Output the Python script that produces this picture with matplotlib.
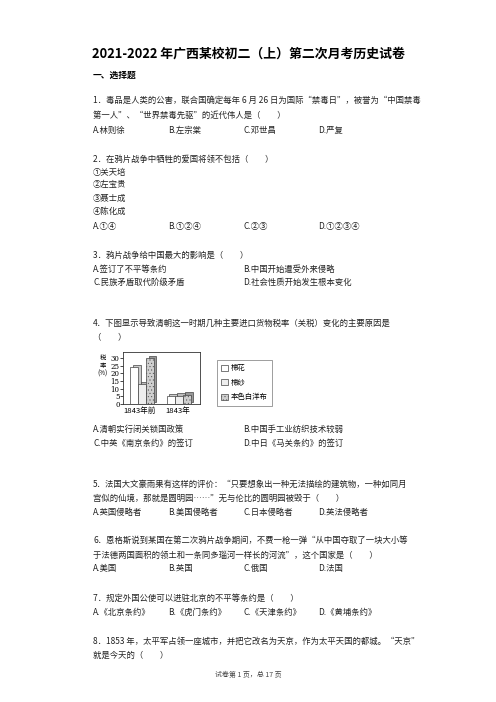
import matplotlib
matplotlib.use('Agg')
import matplotlib.pyplot as plt
import matplotlib.transforms as mtransforms

plt.rcParams['font.family'] = ['Noto Sans CJK SC', 'DejaVu Sans']
plt.rcParams['hatch.linewidth'] = 0.3

W, H = 496, 702

# chart data (tariff rate %)
categories = ['1843年前', '1843年']
series_names = ['棉花', '棉纱', '本色白洋布']
cotton = [24, 5]
yarn = [13, 5.5]
cloth = [30, 6]
yticks = [0, 5, 10, 15, 20, 25, 30]

title = '2021-2022 年广西某校初二（上）第二次月考历史试卷'
section = '一、选择题'

# (y pixel, x pixel, text)
lines = [
    (100, 93, '1．毒品是人类的公害，联合国确定每年 6 月 26 日为国际“禁毒日”，被誉为“中国禁毒'),
    (115, 93, '第一人”、“世界禁毒先驱”的近代伟人是（　　）'),
    (159, 93, '2．在鸦片战争中牺牲的爱国将领不包括（　　）'),
    (172, 93, '①关天培'),
    (185, 93, '②左宝贵'),
    (198, 93, '③聂士成'),
    (211, 93, '④陈化成'),
    (255, 93, '3．鸦片战争给中国最大的影响是（　　）'),
    (323, 93, '4．下图显示导致清朝这一时期几种主要进口货物税率（关税）变化的主要原因是'),
    (337, 93, '（　　）'),
    (484, 93, '5．法国大文豪雨果有这样的评价：“只要想象出一种无法描绘的建筑物，一种如同月'),
    (498, 93, '宫似的仙境，那就是圆明园……”无与伦比的圆明园被毁于（　　）'),
    (540, 93, '6．恩格斯说到某国在第二次鸦片战争期间，不费一枪一弹“从中国夺取了一块大小等'),
    (555, 93, '于法德两国面积的领土和一条同多瑙河一样长的河流”，这个国家是（　　）'),
    (598, 93, '7．规定外国公使可以进驻北京的不平等条约是（　　）'),
    (641, 93, '8．1853 年，太平军占领一座城市，并把它改名为天京，作为太平天国的都城。“天京”'),
    (655, 93, '就是今天的（　　）'),
]

# option rows: (y pixel, [texts]); 4 options -> 4 columns, 2 -> 2 columns
options = [
    (130, ['A.林则徐', 'B.左宗棠', 'C.邓世昌', 'D.严复']),
    (226, ['A.①④', 'B.①②④', 'C.②③', 'D.①②③④']),
    (269, ['A.签订了不平等条约', 'B.中国开始遭受外来侵略']),
    (282, ['C.民族矛盾取代阶级矛盾', 'D.社会性质开始发生根本变化']),
    (429, ['A.清朝实行闭关锁国政策', 'B.中国手工业纺织技术较弱']),
    (443, ['C.中英《南京条约》的签订', 'D.中日《马关条约》的签订']),
    (512, ['A.英国侵略者', 'B.美国侵略者', 'C.日本侵略者', 'D.英法侵略者']),
    (568, ['A.美国', 'B.英国', 'C.俄国', 'D.法国']),
    (612, ['A.《北京条约》', 'B.《虎门条约》', 'C.《天津条约》', 'D.《黄埔条约》']),
]

fig = plt.figure(figsize=(W / 100, H / 100), dpi=100)
fig.patch.set_facecolor('white')


def fx(x):
    return x / W


def fy(y):
    return 1 - y / H


body = 6.0
fig.text(fx(248), fy(54), title, ha='center', va='center', fontsize=9.3, fontweight='bold')
fig.text(fx(93), fy(75), section, ha='left', va='center', fontsize=6.3, fontweight='bold')

for y, x, s in lines:
    fig.text(fx(x), fy(y), s, ha='left', va='center', fontsize=body, color='#222222')

for y, opts in options:
    cols = [93, 168, 243, 318] if len(opts) == 4 else [93, 243]
    for x, s in zip(cols, opts):
        fig.text(fx(x), fy(y), s, ha='left', va='center', fontsize=body, color='#222222')

fig.text(fx(248), fy(675), '试卷第 1 页，总 17 页', ha='center', va='center', fontsize=5, color='#444444')

# small bar chart
ax = fig.add_axes([fx(123), fy(404), fx(200) - fx(123), (404 - 352) / H])
xpos = [0, 1]
bw = 0.215
fills = ['white', '#eeeeee', '#cfcfcf']
sides = ['#cccccc', '#bbbbbb', '#999999']
hatches = [None, None, '.....']
depth = mtransforms.offset_copy(ax.transData, fig=fig, x=2.5, y=2.5, units='dots')
for i, (vals, name) in enumerate(zip([cotton, yarn, cloth], series_names)):
    xs = [p + (i - 1) * bw for p in xpos]
    ax.bar(xs, vals, width=bw, color=sides[i], edgecolor='#444444', linewidth=0.5,
           transform=depth, zorder=2)
    ax.bar(xs, vals, width=bw, color=fills[i], edgecolor='#444444', linewidth=0.5,
           hatch=hatches[i], label=name, zorder=3)

ax.set_xlim(-0.52, 1.58)
ax.set_ylim(0, 34)
ax.set_yticks(yticks)
ax.set_yticklabels([str(v) for v in yticks], fontsize=5, family='DejaVu Serif')
ax.set_xticks([-0.08, 0.98])
ax.set_xticklabels(categories, fontsize=5.5)
ax.tick_params(axis='y', length=2, width=0.5, pad=0.5)
ax.tick_params(axis='x', length=0, pad=2)
for sp in ax.spines.values():
    sp.set_linewidth(0.6)
    sp.set_color('#333333')

fig.text(fx(103), fy(358), '税', ha='center', va='center', fontsize=4.5)
fig.text(fx(103), fy(366), '率', ha='center', va='center', fontsize=4.5)
fig.text(fx(103), fy(374), '(%)', ha='center', va='center', fontsize=4.5)

leg = ax.legend(loc='upper left', bbox_to_anchor=(fx(213), fy(356)), bbox_transform=fig.transFigure,
                fontsize=5.3, frameon=True, fancybox=False, handlelength=0.9, handleheight=0.9,
                borderpad=0.6, labelspacing=0.9, handletextpad=0.4)
leg.get_frame().set_edgecolor('#555555')
leg.get_frame().set_linewidth(0.5)

fig.savefig('out.png', dpi=100, facecolor='white')
